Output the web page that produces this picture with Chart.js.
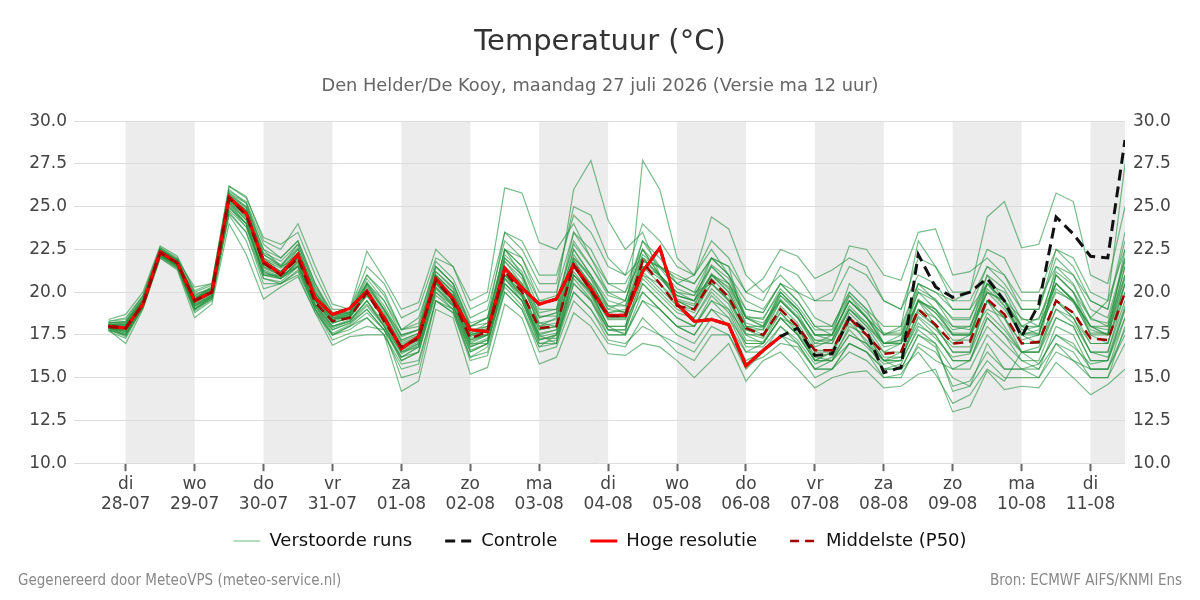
<!DOCTYPE html>
<html><head><meta charset="utf-8">
<script src="https://cdn.jsdelivr.net/npm/chart.js@4/dist/chart.umd.min.js"></script>
<style>
html,body{margin:0;padding:0;background:#fff;}
#wrap{position:relative;width:1200px;height:600px;overflow:hidden;}
canvas{display:block}
.foot{position:absolute;top:571px;font-size:15px;line-height:18px;font-family:"DejaVu Sans Condensed","DejaVu Sans",sans-serif;color:#888;white-space:nowrap;}
</style></head><body>
<div id="wrap"><canvas id="c" width="1200" height="600"></canvas>
<div class="foot" style="left:18px">Gegenereerd door MeteoVPS (meteo-service.nl)</div>
<div class="foot" style="right:18px">Bron: ECMWF AIFS/KNMI Ens</div>
</div>
<script>
// ---- time axis (hours after 27-07 00:00), 6-hourly forecast steps ----
const firstStepHour = 18, stepHours = 6, nSteps = 60;
const stepHoursList = Array.from({length: nSteps}, (_, i) => firstStepHour + i * stepHours);
const dayTicks = [24,48,72,96,120,144,168,192,216,240,264,288,312,336,360];
const dayNames = ['di','wo','do','vr','za','zo','ma','di','wo','do','vr','za','zo','ma','di'];
const dayDates = ['28-07','29-07','30-07','31-07','01-08','02-08','03-08','04-08','05-08','06-08','07-08','08-08','09-08','10-08','11-08'];

// ---- series ----
const hres = [18.0,17.9,19.3,22.35,21.7,19.5,20.0,25.55,24.6,21.8, 21.05,22.2,19.65,18.7,19.05,20.05,18.5,16.7,17.4,20.8, 19.6,17.8,17.7,21.4,20.25,19.3,19.6,21.6,20.2,18.65, 18.65,21.2,22.6,19.3,18.3,18.4,18.1,15.7,16.6,17.4];
const control = [18.0,17.9,19.3,22.35,21.7,19.5,20.0,25.55,24.6,21.8, 21.05,22.2,19.65,18.7,19.05,20.05,18.5,16.7,17.4,20.8, 19.6,17.8,17.7,21.4,20.25,19.3,19.6,21.6,20.2,18.65, 18.65,21.2,22.6,19.3,18.3,18.4,18.1,15.7,16.6,17.4, 17.9,16.3,16.4,18.5,17.7,15.3,15.6,22.2,20.3,19.7, 20.0,20.8,19.5,17.4,19.3,24.4,23.4,22.1,22.0,28.9];
const p50 = [18.0,17.9,19.3,22.3,21.7,19.5,20.0,25.5,24.5,21.7, 21.0,22.0,19.4,18.3,18.5,20.0,18.3,16.8,17.3,20.7, 19.5,17.3,17.7,21.2,20.0,17.9,18.0,21.6,20.1,18.6, 18.6,21.8,20.5,19.2,19.0,20.7,19.7,17.9,17.5,19.0, 18.0,16.6,16.6,18.5,17.5,16.4,16.5,19.0,18.1,17.0, 17.1,19.6,18.7,17.0,17.1,19.5,18.8,17.3,17.2,20.0];

const m01 = [18.3,18.5,19.8,22.6,21.9,20.3,20.5,26.2,25.6,23.0, 22.5,24.0,21.5,19.3,19.0,22.4,20.8,19.0,19.4,22.5, 21.5,19.5,20.0,26.1,25.8,22.9,22.5,24.0,22.0,20.5, 20.0,23.0,21.5,20.8,20.5,22.0,21.0,19.5,19.0,20.5, 19.5,18.0,17.5,19.5,18.6,17.0,17.2,20.0,19.0,18.0, 18.0,20.5,19.5,17.8,18.0,20.5,19.6,18.0,18.0,21.0];
const m02 = [17.8,17.0,19.0,22.0,21.3,18.5,19.3,24.0,22.2,19.6, 20.3,20.9,18.8,16.9,17.4,17.5,17.5,14.2,14.8,19.0, 18.5,15.2,15.6,19.3,18.5,15.8,16.2,18.8,18.0,16.4, 16.3,17.0,16.8,16.0,15.0,16.0,17.0,14.8,16.0,16.5, 15.5,14.4,15.0,15.3,15.4,14.4,14.5,15.2,15.5,13.0, 13.3,15.4,14.3,14.5,14.4,15.9,15.0,14.0,14.6,15.5];
const m03 = [18.1,18.0,19.5,22.4,21.8,19.8,20.2,25.8,25.0,22.0, 21.2,22.5,20.0,18.6,18.8,20.3,19.0,17.2,17.6,21.0, 20.0,17.8,18.0,22.5,21.5,19.5,19.8,26.0,27.7,24.2, 22.5,23.5,21.0,19.5,19.2,21.0,20.3,18.5,18.2,19.5, 18.5,17.2,17.0,19.0,18.0,17.0,17.0,19.5,18.8,17.5, 17.5,20.5,19.2,17.5,17.8,20.0,19.5,17.8,17.5,21.5];
const m04 = [17.9,17.6,19.2,22.2,21.6,19.0,19.8,25.2,24.0,21.0, 20.8,21.8,19.2,18.0,18.3,19.5,18.0,16.0,16.5,20.2, 19.2,16.8,17.2,20.5,19.5,17.5,17.0,21.0,20.0,18.0, 17.5,27.7,26.0,22.0,21.0,22.5,21.0,18.5,18.0,20.0, 19.0,17.5,17.2,19.8,18.5,17.0,17.2,20.5,19.5,18.0, 17.8,21.0,19.5,17.2,17.5,21.0,20.0,18.0,17.5,22.5];
const m05 = [18.2,18.2,19.6,22.5,21.9,19.7,20.1,25.6,24.8,22.2, 21.5,22.0,19.8,18.5,18.7,20.5,19.5,17.5,17.8,20.5, 19.8,17.5,17.8,21.8,20.5,18.5,18.8,22.5,21.0,19.5, 19.2,21.5,20.8,19.8,19.5,21.0,20.5,18.5,18.5,20.0, 19.0,17.5,17.5,19.5,18.5,17.5,17.8,20.5,20.0,19.5, 20.0,24.4,25.3,22.6,22.8,25.8,25.3,21.0,20.5,25.0];
const m06 = [17.7,17.3,19.1,22.1,21.4,18.8,19.5,24.5,23.0,20.2, 20.5,21.2,19.0,17.2,17.6,18.0,17.8,15.0,15.3,19.5, 18.8,16.0,16.3,20.0,19.0,16.5,16.8,19.5,18.5,17.0, 16.8,18.5,17.5,16.5,16.0,17.5,17.5,15.5,16.5,17.5, 16.5,15.0,15.5,16.5,16.0,15.0,15.0,17.0,16.5,15.0, 14.5,17.0,15.5,15.5,15.0,17.0,16.0,15.0,15.0,17.0];
const m07 = [18.0,17.9,19.4,22.3,21.7,19.5,20.0,25.5,24.6,21.5, 21.0,22.0,19.5,18.2,18.5,19.8,18.5,16.8,17.2,20.5, 19.5,17.2,17.5,21.0,20.0,17.8,18.0,21.5,20.5,19.0, 19.5,22.5,21.5,20.5,21.0,24.4,23.7,21.0,20.0,21.0, 20.0,18.5,18.0,20.0,19.0,17.0,17.5,19.5,19.0,17.5, 17.5,20.0,19.5,17.5,17.5,21.0,20.0,17.5,17.0,20.5];
const m08 = [18.4,18.7,20.0,22.7,22.1,20.0,20.4,26.0,25.2,22.5, 22.0,23.0,20.5,18.8,19.0,21.0,19.8,17.8,18.2,21.8, 20.8,18.5,19.0,23.0,22.0,20.0,20.0,23.5,22.5,20.5, 20.5,22.5,21.0,20.0,19.8,21.5,20.5,19.0,18.8,20.5, 20.0,19.5,20.0,22.7,22.5,21.0,20.7,23.5,23.7,21.0, 21.2,22.0,21.0,19.5,19.5,21.5,21.0,19.5,19.0,23.0];
const m09 = [17.9,17.5,19.1,22.1,21.5,19.0,19.7,24.8,23.8,20.8, 20.6,21.5,19.0,17.8,18.2,19.0,17.8,16.2,16.5,20.0, 19.0,16.5,17.0,20.5,19.5,17.0,17.2,20.5,19.5,17.8, 17.8,20.5,19.5,18.5,18.0,19.5,18.5,17.0,17.0,18.5, 17.5,16.0,16.0,17.5,17.0,15.5,15.8,18.0,17.5,16.0, 16.0,18.5,17.5,16.0,16.0,18.5,18.0,16.0,16.0,19.0];
const m10 = [18.1,18.1,19.5,22.5,21.8,19.8,20.3,25.7,25.0,22.5, 21.5,22.8,20.3,18.8,18.8,20.8,19.5,17.8,18.0,21.5, 20.5,18.2,18.5,22.0,21.0,18.8,19.0,23.0,21.5,19.8, 19.5,23.0,22.0,20.5,20.0,22.0,21.0,19.0,18.8,20.5, 19.5,18.0,18.0,20.0,19.0,18.0,18.0,20.5,20.0,19.0, 19.0,21.5,20.5,19.0,19.0,22.5,21.5,19.5,19.0,23.5];
const m11 = [18.0,17.7,19.3,22.2,21.6,19.2,19.9,25.3,24.2,21.2, 20.8,21.8,19.3,18.0,18.4,19.5,18.2,16.5,17.0,20.5, 19.3,17.0,17.5,21.5,20.5,18.0,18.5,22.0,20.8,18.5, 18.5,20.0,19.0,18.0,17.5,19.0,18.5,16.5,17.0,18.5, 17.5,16.0,16.5,18.5,17.5,16.0,16.5,19.5,18.0,16.5, 16.5,19.5,18.5,16.5,16.5,19.0,18.5,16.5,16.5,20.0];
const m12 = [18.2,18.3,19.7,22.4,21.8,19.9,20.2,25.9,25.3,22.8, 22.0,23.0,20.5,18.5,18.8,21.0,20.0,17.8,18.5,21.5, 20.5,18.0,18.5,22.5,22.0,19.5,19.5,22.8,21.5,20.0, 20.0,22.0,21.5,21.0,20.5,22.0,21.5,20.0,20.8,22.5, 22.1,20.8,21.3,22.0,21.5,19.5,19.0,21.0,20.5,19.0, 19.0,20.5,19.5,18.0,18.5,20.5,19.5,18.0,17.5,20.5];
const m13 = [17.8,17.4,19.2,22.0,21.4,18.9,19.6,24.6,23.5,20.5, 20.5,21.0,18.8,17.5,18.0,18.5,17.5,15.8,16.0,19.5, 18.8,16.2,16.8,20.0,19.0,16.8,17.5,20.0,19.0,17.5, 17.5,19.5,18.5,17.5,17.0,18.5,18.0,16.0,16.5,18.0, 17.0,15.5,16.0,17.0,16.5,15.5,15.5,17.5,16.8,14.5, 14.8,16.5,15.5,15.5,15.5,17.0,16.5,15.0,15.0,18.0];
const m14 = [18.0,17.8,19.4,22.3,21.7,19.6,20.1,25.6,24.7,21.8, 21.2,22.2,19.7,18.4,18.6,20.0,18.6,16.9,17.4,21.0, 20.0,17.5,17.8,22.0,21.0,18.2,18.0,21.5,20.0,18.5, 18.5,21.0,20.5,19.5,19.0,21.0,20.0,18.0,17.5,19.5, 18.5,17.0,17.0,19.0,18.0,16.5,17.0,19.5,18.5,17.5, 17.5,20.0,19.0,17.5,17.0,21.0,20.0,18.5,19.5,27.5];
const m15 = [18.1,18.0,19.3,22.2,21.7,19.3,20.0,25.4,24.4,21.5, 21.0,22.0,19.5,18.2,18.5,19.8,18.5,16.5,17.0,20.8, 19.7,17.3,17.5,21.0,20.0,17.5,17.8,21.8,20.5,18.8, 19.0,22.0,21.0,19.5,19.0,20.5,19.5,17.5,17.5,19.0, 18.0,16.5,16.5,18.5,17.5,16.5,16.5,18.8,18.0,17.0, 17.5,19.0,18.5,17.0,17.0,19.5,18.5,17.0,17.0,20.5];
const m16 = [17.9,17.8,19.3,22.3,21.5,19.2,19.8,25.1,24.0,21.0, 21.0,21.5,19.5,18.0,18.3,19.5,18.0,16.5,16.8,20.5, 19.5,17.0,17.0,21.0,19.8,17.2,17.5,21.0,20.0,18.0, 18.0,21.0,20.0,19.0,18.5,20.0,19.0,17.5,17.0,18.5, 18.0,16.0,16.5,18.5,17.0,16.0,16.0,19.0,18.0,16.5, 16.5,19.5,18.0,16.5,16.5,19.5,18.5,16.5,16.5,19.5];
const m17 = [18.3,18.4,19.8,22.6,22.0,20.1,20.5,26.2,25.5,23.2, 22.8,23.5,21.0,19.0,19.0,21.5,20.5,18.5,19.0,22.0, 21.5,19.0,19.5,23.5,23.0,21.0,21.0,24.5,23.5,21.5, 21.0,24.0,23.0,21.5,21.0,23.0,22.0,20.0,19.5,21.5, 21.0,19.5,19.5,21.5,21.0,19.5,19.0,22.0,21.5,20.0, 20.0,22.5,22.0,20.0,20.0,22.5,22.0,20.0,19.5,22.5];
const m18 = [17.9,17.6,19.1,22.1,21.6,19.1,19.8,24.9,24.0,21.0, 20.8,21.5,19.0,17.5,18.0,18.8,17.8,16.0,16.5,19.8, 19.0,16.5,17.0,20.5,19.5,17.0,17.0,20.5,19.5,17.5, 17.5,20.0,19.0,18.0,17.5,19.0,18.0,16.5,16.5,17.5, 17.0,15.5,15.5,17.0,16.5,15.5,15.5,17.5,17.0,15.5, 16.0,18.0,17.0,16.0,15.5,18.0,17.5,15.5,15.5,18.5];
const m19 = [18.1,18.1,19.5,22.5,21.9,19.6,20.2,25.6,24.8,22.0, 21.5,22.5,20.0,18.5,18.5,20.5,19.0,17.5,17.8,21.5, 20.5,18.0,18.2,22.5,21.5,19.0,19.0,23.5,22.0,20.0, 19.5,22.5,21.0,20.0,19.5,21.5,20.5,18.5,18.0,20.0, 19.0,17.5,17.5,20.5,19.5,17.5,18.0,23.0,21.5,19.5, 19.5,21.5,21.0,19.0,19.0,22.0,21.0,19.0,18.5,22.0];
const m20 = [17.8,17.5,19.2,22.2,21.5,19.0,19.7,25.0,24.0,21.2, 20.8,21.5,19.2,17.8,18.2,19.2,18.0,16.2,16.8,20.0, 19.2,16.8,17.2,20.8,19.8,17.2,17.5,21.0,19.8,17.8, 17.8,20.5,19.5,18.5,18.0,19.5,19.0,17.0,17.0,18.5, 17.5,16.0,16.0,18.0,17.5,16.0,16.0,18.5,17.5,16.0, 16.0,18.5,17.5,16.5,16.5,18.5,18.0,16.0,16.0,19.0];
const m21 = [18.2,18.3,19.6,22.4,21.9,19.6,20.3,25.8,25.2,22.3, 21.8,22.8,20.2,18.6,18.9,20.5,19.0,17.2,17.6,21.2, 20.3,17.6,18.2,22.5,21.0,18.5,18.8,22.5,21.0,19.2, 18.8,21.5,21.0,19.8,19.5,22.0,21.5,18.0,17.8,19.8, 18.8,17.0,17.5,19.5,18.5,17.5,17.5,20.0,19.5,18.5, 18.5,20.5,19.5,18.5,18.0,21.5,20.5,18.5,18.0,22.0];
const m22 = [17.9,17.7,19.2,22.2,21.5,19.2,19.7,25.0,23.8,21.3, 20.9,21.6,19.2,17.6,18.1,19.0,17.8,16.2,16.8,20.3, 19.2,16.6,17.0,20.8,19.5,17.3,17.3,20.8,19.6,17.8, 17.6,19.5,19.0,18.0,18.0,19.8,18.8,16.8,16.8,18.0, 17.2,15.8,16.2,17.8,16.8,15.8,16.0,17.8,17.0,14.2, 14.5,16.0,15.0,15.0,15.0,16.5,16.0,15.5,15.5,17.5];
const m23 = [18.0,18.1,19.4,22.4,21.8,19.4,20.0,25.4,24.5,21.8, 21.2,22.0,19.6,18.4,18.6,20.2,18.8,16.8,17.2,20.8, 19.8,17.4,17.8,21.8,20.8,18.0,18.2,22.0,21.0,19.0, 18.8,21.8,21.5,20.5,20.0,20.5,19.5,17.8,17.8,19.5, 18.5,16.8,17.2,19.0,18.2,16.8,17.0,19.0,18.5,17.2, 17.2,20.5,20.0,18.0,17.5,20.5,19.5,17.5,17.5,21.0];
const m24 = [17.9,17.8,19.3,22.3,21.6,19.4,19.9,25.3,24.3,21.4, 21.0,21.9,19.5,18.2,18.5,20.0,18.3,16.6,17.1,20.6, 19.6,17.1,17.5,21.0,19.8,17.6,17.8,21.5,20.0,18.4, 18.4,21.2,20.2,19.2,19.0,20.8,19.8,17.6,17.3,19.2, 18.2,16.6,16.6,18.8,17.8,16.2,16.2,18.6,17.8,16.8, 16.8,19.5,18.5,17.0,17.0,19.5,18.8,17.0,17.0,20.0];
const m25 = [18.2,18.2,19.6,22.5,21.8,19.7,20.2,25.7,24.9,22.2, 21.6,22.6,20.0,18.6,18.8,20.6,19.2,17.4,17.8,21.2, 20.2,18.0,18.5,23.5,22.5,20.5,20.5,25.0,24.5,22.0, 21.0,22.0,21.0,19.8,19.5,21.0,20.0,18.0,18.0,19.8, 19.0,17.5,17.5,19.5,18.5,17.0,17.0,19.5,19.0,17.8, 18.0,20.0,19.5,18.0,18.0,20.5,19.5,18.0,17.8,21.5];
const m26 = [17.8,17.5,19.1,22.1,21.5,19.0,19.6,24.7,23.5,20.8, 20.5,21.3,19.0,17.5,17.8,18.5,17.5,15.5,15.8,19.5, 19.0,16.2,16.5,20.3,19.2,16.8,17.0,20.0,19.0,17.2, 17.0,18.0,17.5,17.0,16.5,18.0,17.5,15.8,16.2,17.0, 16.8,15.5,15.5,17.0,16.5,15.0,15.2,16.8,16.0,15.5, 15.5,17.5,16.5,15.5,15.8,17.5,17.0,15.5,15.5,17.8];
const m27 = [18.1,18.2,19.5,22.4,21.7,19.6,20.1,25.6,24.7,21.9, 21.4,22.3,19.9,18.5,18.7,20.4,18.9,17.1,17.5,21.0, 20.0,17.6,18.0,22.2,21.2,18.6,18.6,22.2,20.8,19.2, 19.2,22.2,21.4,20.2,19.8,21.6,20.8,18.6,18.4,20.2, 19.2,17.8,17.8,19.8,18.8,17.6,17.6,20.2,19.6,18.4, 18.4,21.0,20.2,18.4,18.4,21.2,20.4,18.4,18.2,21.8];
const m28 = [17.9,17.7,19.2,22.2,21.6,19.3,19.8,25.2,24.2,21.1, 20.9,21.7,19.3,17.9,18.3,19.3,18.1,16.4,16.9,20.3, 19.3,16.9,17.3,20.8,19.7,17.4,17.6,21.2,19.9,18.0, 18.0,20.8,19.8,18.8,18.5,20.2,19.3,17.2,17.1,18.8, 17.8,16.3,16.4,18.2,17.2,16.0,16.2,18.2,17.3,16.2, 16.4,18.8,17.8,16.5,16.8,19.0,18.2,16.5,16.2,19.2];
const m29 = [18.0,17.8,19.3,22.3,21.7,19.4,20.0,25.4,24.4,21.6, 21.1,22.1,19.6,18.3,18.6,19.9,18.4,16.7,17.2,20.6, 19.6,17.2,17.6,21.2,20.1,17.8,18.0,21.6,20.2,18.6, 18.6,21.5,20.5,19.2,18.8,20.5,19.6,17.8,17.4,18.8, 17.6,16.2,16.0,17.5,17.0,16.0,15.5,16.5,15.2,13.5, 14.0,15.5,14.8,16.5,15.8,17.5,16.8,15.8,16.0,18.5];
const m30 = [18.1,18.0,19.5,22.4,21.8,19.5,20.1,25.5,24.6,21.7, 21.2,22.1,19.7,18.4,18.7,20.1,18.7,17.0,17.4,20.9, 19.8,17.5,17.9,21.5,20.4,18.2,18.4,21.9,20.4,18.8, 18.9,21.9,20.9,19.6,19.3,21.1,20.2,18.2,17.9,19.6, 18.6,17.2,17.2,19.2,18.2,17.0,17.1,19.6,18.8,17.6, 17.6,20.2,19.2,17.6,17.6,20.2,19.4,17.6,17.6,20.8];
const members = [m01,m02,m03,m04,m05,m06,m07,m08,m09,m10,m11,m12,m13,m14,m15,m16,m17,m18,m19,m20,m21,m22,m23,m24,m25,m26,m27,m28,m29,m30];

// ---- build chart ----
const toXY = arr => arr.map((v, i) => ({x: stepHoursList[i], y: v}));
const ENS = 'rgba(35,145,60,0.6)';
const datasets = [
  {label:'Middelste (P50)', data: toXY(p50), borderColor:'#a00000', borderWidth:2.5, borderDash:[10,6], pointRadius:0, tension:0},
  {label:'Hoge resolutie', data: toXY(hres), borderColor:'#ff0000', borderWidth:3.2, pointRadius:0, tension:0},
  {label:'Controle', data: toXY(control), borderColor:'#111111', borderWidth:3, borderDash:[11,6], pointRadius:0, tension:0},
];
members.forEach(m => datasets.push({label:'Verstoorde runs', data: toXY(m), borderColor: ENS, borderWidth:1.2, pointRadius:0, tension:0}));

const bands = {
  id:'bands',
  beforeDraw(chart){
    const {ctx, chartArea:a, scales:{x}} = chart;
    ctx.save();
    ctx.fillStyle = '#ececec';
    for (let k = 0; k < dayTicks.length; k += 2) {
      const x0 = Math.max(a.left, x.getPixelForValue(dayTicks[k]));
      const x1 = Math.min(a.right, x.getPixelForValue(dayTicks[k] + 24));
      if (x1 > x0) ctx.fillRect(x0, a.top, x1 - x0, a.bottom - a.top);
    }
    ctx.restore();
  }
};
// pull the legend row up closer to the axis labels (keeps wide horizontal item spacing)
const legendLift = {
  id:'legendLift',
  afterLayout(chart){
    const L = chart.legend; if (!L) return;
    L.top -= 19; L.bottom -= 19;
  }
};

Chart.defaults.font.family = '"DejaVu Sans", sans-serif';
const yTicks = {stepSize:2.5, callback: v => v.toFixed(1), font:{size:17}, color:'#444'};

new Chart(document.getElementById('c'), {
  type:'line',
  data:{datasets},
  plugins:[bands, legendLift],
  options:{
    responsive:false, animation:false, devicePixelRatio:1,
    layout:{padding:{left:0,right:0,top:0,bottom:21}},
    scales:{
      x:{type:'linear', min:6, max:372,
        afterBuildTicks: s => { s.ticks = dayTicks.map(v => ({value:v})); },
        ticks:{autoSkip:false, maxRotation:0, font:{size:17}, color:'#444', padding:3,
          callback: v => { const i = dayTicks.indexOf(v); return i < 0 ? '' : [dayNames[i], dayDates[i]]; }},
        grid:{drawOnChartArea:false, drawTicks:true, tickLength:8, tickWidth:2, tickColor:'#666'},
        border:{display:false}
      },
      y:{position:'left', min:10, max:30, ticks:{...yTicks, padding:7},
        grid:{color:'#dcdcdc', drawTicks:false}, border:{display:false},
        afterFit: s => { s.width = 74; }},
      y2:{position:'right', min:10, max:30, ticks:{...yTicks, padding:8},
        grid:{display:false, drawTicks:false}, border:{display:false},
        afterFit: s => { s.width = 75; }}
    },
    plugins:{
      title:{display:true, text:'Temperatuur (°C)', font:{size:29, weight:'normal'}, color:'#333', padding:{top:25, bottom:16}},
      subtitle:{display:true, text:'Den Helder/De Kooy, maandag 27 juli 2026 (Versie ma 12 uur)', font:{size:17.8}, color:'#666', padding:{top:0, bottom:24}},
      tooltip:{enabled:false},
      legend:{position:'bottom',
        labels:{usePointStyle:true, pointStyleWidth:27, boxHeight:18, font:{size:18}, color:'#111', padding:33,
          generateLabels: () => [
            {text:'Verstoorde runs', pointStyle:'line', strokeStyle:'rgba(40,155,70,0.7)', lineWidth:1, lineDash:[], fillStyle:'transparent', fontColor:'#111'},
            {text:'Controle', pointStyle:'line', strokeStyle:'#111', lineWidth:3, lineDash:[10,6], fillStyle:'transparent', fontColor:'#111'},
            {text:'Hoge resolutie', pointStyle:'line', strokeStyle:'#ff0000', lineWidth:3, lineDash:[], fillStyle:'transparent', fontColor:'#111'},
            {text:'Middelste (P50)', pointStyle:'line', strokeStyle:'#a00000', lineWidth:2.5, lineDash:[9,6], fillStyle:'transparent', fontColor:'#111'}
          ]}}
    }
  }
});
</script>
</body></html>
